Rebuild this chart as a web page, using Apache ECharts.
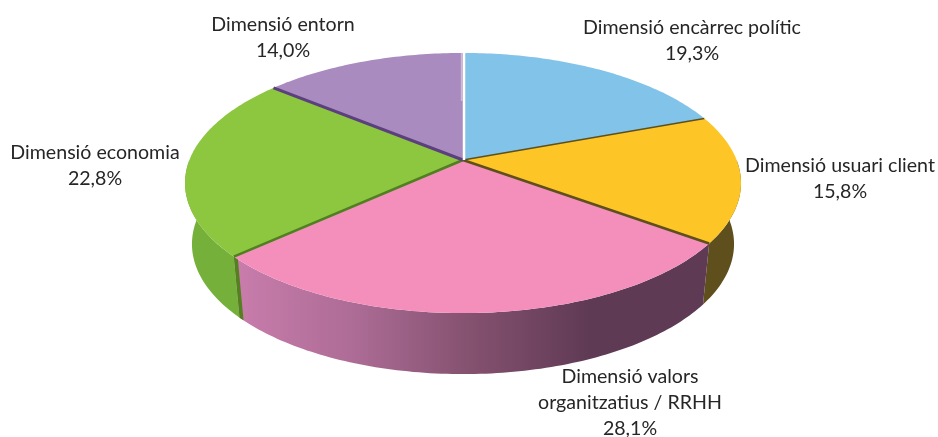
<!DOCTYPE html>
<html>
<head>
<meta charset="utf-8">
<title>Dimensions</title>
<script src="https://cdn.jsdelivr.net/npm/echarts@6/dist/echarts.min.js"></script>
<style>
html, body { margin: 0; padding: 0; background: #fff; }
#chart { width: 938px; height: 437px; }
</style>
</head>
<body>
<div id="chart"></div>
<script>
// slices, clockwise from 12 o'clock
var categories = ['Dimensió encàrrec polític', 'Dimensió usuari client', 'Dimensió valors\norganitzatius / RRHH', 'Dimensió economia', 'Dimensió entorn'];
var shares = [19.3, 15.8, 28.1, 22.8, 14.0];

var topColors = ['#82c3ea', '#fdc626', '#f48fbc', '#8dc63f', '#a98bbf'];
var edgeColors = ['#3f6f86', '#5e4f1c', '#5e4f1c', '#4f7f1f', '#5b3f7e'];
var labelCenters = [[692, 41], [840, 179], [630, 403], [95, 166], [283, 38]];

// perspective of the disc, fitted by eye
var cx = 463, cy = 160, rx = 273.6, ry = 126, k = 0.177;
var depth = 61, bottomScale = 0.975;
var total = shares.reduce(function (a, b) { return a + b; }, 0);

// a = degrees clockwise from the top
function topPoint(a) {
    var r = a * Math.PI / 180;
    var front = -Math.cos(r);
    var s = 1 / (1 - k * front);
    return [cx + rx * Math.sin(r) * s, cy + ry * front * s];
}
function bottomPoint(a) {
    var p = topPoint(a);
    return [cx + (p[0] - cx) * bottomScale, p[1] + depth];
}
function arc(fn, a0, a1) {
    var pts = [];
    var n = Math.max(2, Math.ceil(Math.abs(a1 - a0)));
    for (var i = 0; i <= n; i++) {
        pts.push(fn(a0 + (a1 - a0) * i / n));
    }
    return pts;
}
function wallPoints(a0, a1) {
    return arc(topPoint, a0, a1).concat(arc(bottomPoint, a1, a0));
}

function wallFill(i) {
    if (i === 1) return '#5e4f1c';
    if (i === 3) return '#74b03a';
    // pink wall gets darker to the right
    return {
        type: 'linear', x: 0, y: 0, x2: 1, y2: 0,
        colorStops: [
            { offset: 0, color: '#c97dac' },
            { offset: 0.25, color: '#ad6c96' },
            { offset: 0.5, color: '#84516f' },
            { offset: 0.75, color: '#5f3a55' },
            { offset: 1, color: '#5e3a55' }
        ]
    };
}

function renderSlice(params, api) {
    var i = api.value(0);
    var before = 0;
    for (var j = 0; j < i; j++) before += shares[j];
    var a0 = before / total * 360;
    var a1 = a0 + api.value(1) / total * 360;
    var kids = [];

    // side wall, only the part facing us
    var w0 = Math.max(a0, 90), w1 = Math.min(a1, 270);
    if (w1 > w0) {
        kids.push({
            type: 'polygon', z2: 1,
            shape: { points: wallPoints(w0, w1) },
            style: { fill: wallFill(i) }
        });
    }
    // cut face of the green slice next to the pink one
    if (i === 3) {
        kids.push({
            type: 'polygon', z2: 1,
            shape: { points: wallPoints(a0 - 1.3, a0) },
            style: { fill: '#55801f' }
        });
    }

    // top face
    kids.push({
        type: 'polygon', z2: 2,
        shape: { points: [[cx, cy]].concat(arc(topPoint, a0, a1)) },
        style: { fill: topColors[i] }
    });

    // dark edge on the slice border
    var end = topPoint(a0);
    if (i > 0) {
        kids.push({
            type: 'line', z2: 3,
            shape: { x1: cx, y1: cy, x2: end[0], y2: end[1] },
            style: { stroke: edgeColors[i], lineWidth: i === 1 ? 1.5 : (i === 4 ? 3 : 2.5) }
        });
    }

    kids.push({
        type: 'text', z2: 5,
        x: labelCenters[i][0], y: labelCenters[i][1],
        style: {
            text: categories[i] + '\n' + api.value(1).toFixed(1).replace('.', ',') + '%',
            fill: '#262626',
            font: '19.6px Lato',
            lineHeight: 26,
            align: 'center',
            verticalAlign: 'middle'
        }
    });

    // white gap at 12 o'clock, with the pale rim of the purple slice
    if (i === 0) {
        var t = topPoint(0);
        kids.push({
            type: 'line', z2: 4,
            shape: { x1: cx + 1, y1: cy, x2: t[0] + 1, y2: t[1] - 1 },
            style: { stroke: '#ffffff', lineWidth: 2.5 }
        });
        kids.push({
            type: 'line', z2: 4,
            shape: { x1: t[0] - 1.2, y1: t[1], x2: t[0] - 1.2, y2: t[1] + 48 },
            style: { stroke: '#cdbcd9', lineWidth: 2 }
        });
    }
    return { type: 'group', children: kids };
}

var chart = echarts.init(document.getElementById('chart'));
chart.setOption({
    animation: false,
    backgroundColor: '#ffffff',
    series: [{
        type: 'custom',
        coordinateSystem: 'none',
        renderItem: renderSlice,
        data: shares.map(function (v, i) { return [i, v]; })
    }]
});
</script>
</body>
</html>
